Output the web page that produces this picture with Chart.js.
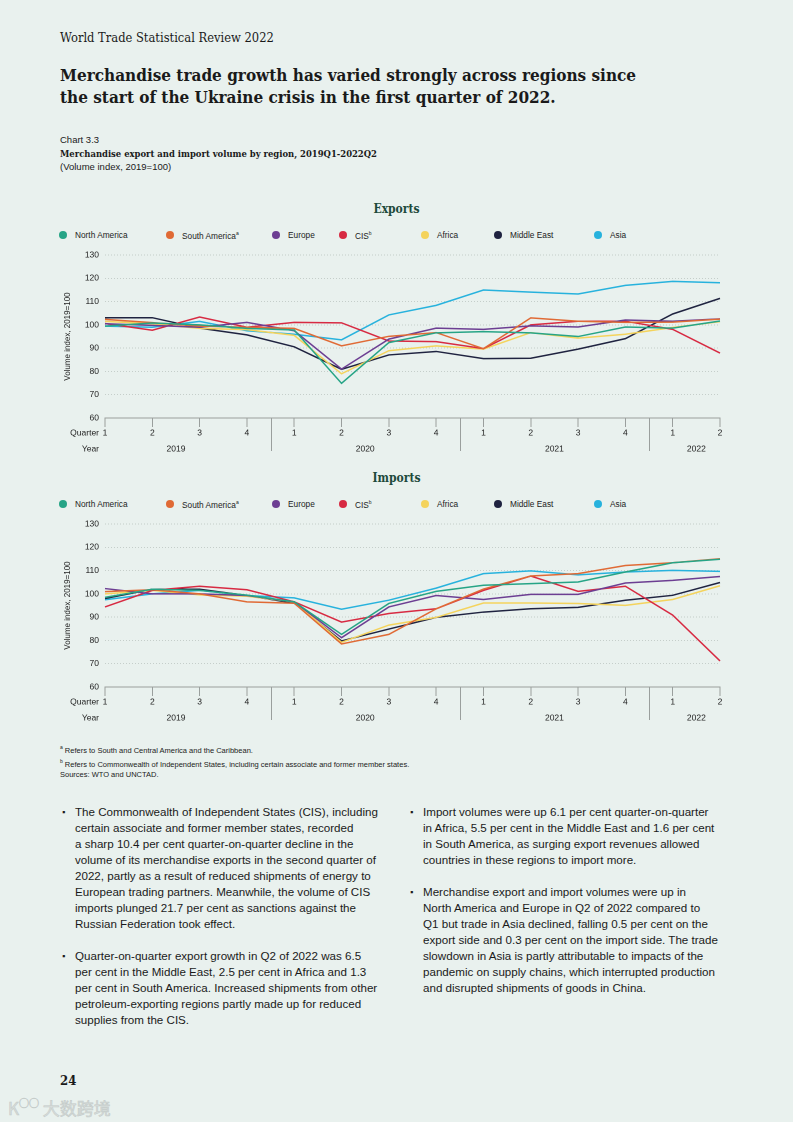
<!DOCTYPE html>
<html>
<head>
<meta charset="utf-8">
<script src="https://cdn.jsdelivr.net/npm/chart.js@4.4.1/dist/chart.umd.min.js"></script>
<style>
  body { margin: 0; background: #e9f1ee; }
  #page { position: relative; width: 793px; height: 1122px; background: #e9f1ee; overflow: hidden;
          font-family: "Liberation Sans", Arial, sans-serif; color: #1a1a1a; }
  .abs { position: absolute; }
  .slab { font-family: "DejaVu Serif Condensed", "DejaVu Serif", serif; }
  .runhead { left: 60px; top: 30px; font-size: 12.8px; }
  .headline { left: 60px; top: 64px; font-size: 17px; font-weight: bold; line-height: 22px; }
  .chartno { left: 60px; top: 134px; font-size: 9.5px; }
  .charttitle { left: 60px; top: 148px; font-size: 9.4px; font-weight: bold; }
  .chartsub { left: 60px; top: 161px; font-size: 9.5px; }
  .sectitle { left: 0; width: 793px; text-align: center; font-size: 12px; font-weight: bold; color: #1d4a3b; }
  .legend { font-size: 8.3px; color: #222; }
  .legend span.dot { position: absolute; width: 8px; height: 8px; border-radius: 50%; top: 1px; }
  .legend span.lbl { position: absolute; left: 16px; top: 0; white-space: nowrap; }
  .notes { left: 60px; top: 742px; font-size: 7.5px; line-height: 11px; color: #222; white-space: nowrap; }
  .col { font-size: 11.6px; line-height: 16px; color: #1a1a1a; white-space: nowrap; }
  .col p { margin: 0 0 16px 0; position: relative; padding-left: 13px; }
  .col p:before { content: "\25AA"; position: absolute; left: 0; top: 0; font-size: 9px; }
  .pageno { left: 60px; top: 1073px; font-size: 13px; font-weight: bold; }
  .wm { left: 8px; top: 1095px; font-size: 17px; color: #d9dfdd; font-family: "Noto Sans CJK SC", sans-serif;
        -webkit-text-stroke: 0.6px #c4cbc9; letter-spacing: 0px; }
</style>
</head>
<body>
<div id="page">
  <div class="abs slab runhead">World Trade Statistical Review 2022</div>
  <div class="abs slab headline">Merchandise trade growth has varied strongly across regions since<br>the start of the Ukraine crisis in the first quarter of 2022.</div>
  <div class="abs chartno">Chart 3.3</div>
  <div class="abs slab charttitle">Merchandise export and import volume by region, 2019Q1-2022Q2</div>
  <div class="abs chartsub">(Volume index, 2019=100)</div>

  <div class="abs slab sectitle" style="top:202px">Exports</div>
  <div class="abs legend" id="legendExp" style="top:230px;left:0;width:793px;height:12px"></div>
  <canvas id="exportsChart" class="abs" style="left:55px;top:244px"></canvas>

  <div class="abs slab sectitle" style="top:471px">Imports</div>
  <div class="abs legend" id="legendImp" style="top:499px;left:0;width:793px;height:12px"></div>
  <canvas id="importsChart" class="abs" style="left:55px;top:513px"></canvas>

  <div class="abs notes">
    <sup style="font-size:5px">a</sup> Refers to South and Central America and the Caribbean.<br>
    <sup style="font-size:5px">b</sup> Refers to Commonwealth of Independent States, including certain associate and former member states.<br>
    Sources: WTO and UNCTAD.
  </div>

  <div class="abs col" style="left:62px;top:804px">
    <p>The Commonwealth of Independent States (CIS), including<br>certain associate and former member states, recorded<br>a sharp 10.4 per cent quarter-on-quarter decline in the<br>volume of its merchandise exports in the second quarter of<br>2022, partly as a result of reduced shipments of energy to<br>European trading partners. Meanwhile, the volume of CIS<br>imports plunged 21.7 per cent as sanctions against the<br>Russian Federation took effect.</p>
    <p>Quarter-on-quarter export growth in Q2 of 2022 was 6.5<br>per cent in the Middle East, 2.5 per cent in Africa and 1.3<br>per cent in South America. Increased shipments from other<br>petroleum-exporting regions partly made up for reduced<br>supplies from the CIS.</p>
  </div>
  <div class="abs col" style="left:410px;top:804px">
    <p>Import volumes were up 6.1 per cent quarter-on-quarter<br>in Africa, 5.5 per cent in the Middle East and 1.6 per cent<br>in South America, as surging export revenues allowed<br>countries in these regions to import more.</p>
    <p>Merchandise export and import volumes were up in<br>North America and Europe in Q2 of 2022 compared to<br>Q1 but trade in Asia declined, falling 0.5 per cent on the<br>export side and 0.3 per cent on the import side. The trade<br>slowdown in Asia is partly attributable to impacts of the<br>pandemic on supply chains, which interrupted production<br>and disrupted shipments of goods in China.</p>
  </div>

  <div class="abs slab pageno">24</div>
  <div class="abs wm">K<span style="font-size:10px;vertical-align:top">○○</span> 大数跨境</div>
</div>

<script>
// categories
const quarters = ['1', '2', '3', '4', '1', '2', '3', '4', '1', '2', '3', '4', '1', '2'];
const years = ['2019', '2020', '2021', '2022'];
const quartersPerYear = [4, 4, 4, 2];
const yTicks = [60, 70, 80, 90, 100, 110, 120, 130];

const regions = ['North America', 'South America', 'Europe', 'CIS', 'Africa', 'Middle East', 'Asia'];
const regionSup = ['', 'a', '', 'b', '', '', ''];
const colors = ['#26a486', '#e06a35', '#6c3e92', '#d72a42', '#f4d35c', '#1f2340', '#27b2dd'];
const legendX = [59, 166, 272, 339, 421, 494, 594];

// exports, volume index 2019=100
const expNorthAmerica = [99.5, 100.8, 100.0, 98.5, 97.8, 74.9, 92.4, 96.6, 97.1, 96.6, 95.0, 99.1, 98.6, 101.7];
const expSouthAmerica = [102.4, 101.0, 99.5, 99.0, 98.5, 91.0, 95.1, 96.7, 89.8, 103.0, 101.6, 101.1, 101.2, 102.5];
const expEurope = [100.5, 99.8, 99.0, 101.1, 97.5, 81.0, 93.9, 98.6, 98.1, 99.6, 99.1, 102.1, 101.6, 102.6];
const expCIS = [100.6, 97.7, 103.4, 99.0, 101.1, 100.9, 93.1, 92.8, 89.8, 100.0, 101.6, 101.6, 98.1, 87.9];
const expAfrica = [101.5, 100.5, 98.5, 98.0, 95.5, 79.0, 88.9, 91.0, 89.6, 96.7, 94.3, 96.0, 98.9, 101.4];
const expMiddleEast = [103.1, 103.1, 98.6, 95.7, 90.6, 80.9, 87.1, 88.6, 85.5, 85.7, 89.6, 94.1, 104.7, 111.4];
const expAsia = [99.5, 99.0, 101.5, 97.5, 96.0, 93.6, 104.3, 108.4, 115.0, 114.1, 113.3, 117.0, 118.7, 118.1];

// imports, volume index 2019=100
const impNorthAmerica = [98.5, 102.0, 101.5, 99.5, 96.6, 82.6, 95.9, 101.1, 103.7, 104.4, 105.1, 109.4, 113.4, 114.9];
const impSouthAmerica = [101.0, 101.8, 100.0, 96.6, 96.0, 78.5, 82.6, 93.6, 102.1, 107.7, 108.7, 112.2, 113.4, 115.1];
const impEurope = [102.3, 100.0, 100.0, 99.3, 96.6, 81.2, 94.4, 99.3, 97.6, 99.8, 99.8, 104.7, 105.8, 107.5];
const impCIS = [94.4, 101.5, 103.3, 101.8, 96.6, 87.9, 91.6, 93.6, 101.5, 107.7, 101.1, 103.3, 90.9, 71.2];
const impAfrica = [100.0, 101.5, 99.6, 99.0, 96.6, 79.2, 86.6, 89.9, 96.1, 96.1, 95.9, 95.1, 97.6, 103.5];
const impMiddleEast = [98.0, 102.0, 102.0, 99.3, 96.0, 79.8, 84.9, 89.9, 92.2, 93.6, 94.2, 97.3, 99.4, 104.9];
const impAsia = [97.5, 100.0, 101.5, 99.3, 98.3, 93.4, 97.3, 102.5, 108.7, 109.9, 108.2, 109.4, 110.1, 109.7];

const exportSeries = [expNorthAmerica, expSouthAmerica, expEurope, expCIS, expAfrica, expMiddleEast, expAsia];
const importSeries = [impNorthAmerica, impSouthAmerica, impEurope, impCIS, impAfrica, impMiddleEast, impAsia];

function buildLegend(id) {
    const box = document.getElementById(id);
    regions.forEach(function(name, i) {
        const item = document.createElement('div');
        item.style.position = 'absolute';
        item.style.left = legendX[i] + 'px';
        item.style.top = '0px';
        item.innerHTML = '<span class="dot" style="background:' + colors[i] + '"></span>' +
            '<span class="lbl">' + name + (regionSup[i] ? '<sup style="font-size:5px">' + regionSup[i] + '</sup>' : '') + '</span>';
        box.appendChild(item);
    });
}

// year row, separators and the "Quarter"/"Year" captions under the axis
const yearAxisPlugin = {
    id: 'yearAxis',
    afterDraw(chart) {
        const ctx = chart.ctx;
        const x = chart.scales.x;
        const bottom = chart.chartArea.bottom;
        ctx.save();
        ctx.font = '8.5px "Liberation Sans", Arial, sans-serif';
        ctx.fillStyle = '#222';
        ctx.textBaseline = 'middle';
        ctx.textAlign = 'right';
        ctx.fillText('Quarter', chart.chartArea.left - 6, bottom + 15);
        ctx.fillText('Year', chart.chartArea.left - 6, bottom + 31);
        ctx.textAlign = 'center';
        let start = 0;
        ctx.strokeStyle = '#9a9f9d';
        ctx.lineWidth = 1;
        years.forEach(function(yr, i) {
            const end = start + quartersPerYear[i] - 1;
            const cx = (x.getPixelForValue(start) + x.getPixelForValue(end)) / 2;
            ctx.fillText(yr, cx, bottom + 31);
            if (i < years.length - 1) {
                const sx = Math.round((x.getPixelForValue(end) + x.getPixelForValue(end + 1)) / 2) + 0.5;
                ctx.beginPath();
                ctx.moveTo(sx, bottom);
                ctx.lineTo(sx, bottom + 33);
                ctx.stroke();
            }
            start = end + 1;
        });
        ctx.restore();
    }
};

function makeChart(canvasId, series) {
    const datasets = series.map(function(values, i) {
        return {
            label: regions[i],
            data: values,
            borderColor: colors[i],
            backgroundColor: colors[i],
            borderWidth: 1.5,
            pointRadius: 0,
            tension: 0,
        };
    });

    return new Chart(document.getElementById(canvasId), {
        type: 'line',
        data: { labels: quarters, datasets: datasets },
        plugins: [yearAxisPlugin],
        options: {
            responsive: false,
            animation: false,
            devicePixelRatio: 2,
            layout: { padding: { top: 10, right: 15, left: 0, bottom: 0 } },
            plugins: { legend: { display: false }, tooltip: { enabled: false } },
            scales: {
                x: {
                    offset: false,
                    afterFit(scale) { scale.height = 41; },
                    grid: { drawOnChartArea: false, drawTicks: true, tickLength: 9, color: '#9a9f9d' },
                    border: { display: true, color: '#9a9f9d', width: 1 },
                    ticks: { color: '#222', font: { size: 8.5, family: '"Liberation Sans", Arial, sans-serif' },
                             padding: 1, maxRotation: 0, autoSkip: false },
                },
                y: {
                    min: 60,
                    max: 130,
                    afterFit(scale) { scale.width = 50; },
                    afterBuildTicks(scale) { scale.ticks = yTicks.map(function(v) { return { value: v }; }); },
                    grid: { drawTicks: false, color: '#b9c2bf', lineWidth: 0.8 },
                    border: { display: false, dash: [1, 2] },
                    ticks: { color: '#222', padding: 6, font: { size: 8.5, family: '"Liberation Sans", Arial, sans-serif' } },
                    title: { display: true, text: 'Volume index, 2019=100', color: '#222', padding: { top: 8, bottom: 0 },
                             font: { size: 8, family: '"Liberation Sans", Arial, sans-serif' } },
                },
            },
        },
    });
}

document.addEventListener('DOMContentLoaded', function() {
    ['exportsChart', 'importsChart'].forEach(function(id) {
        const c = document.getElementById(id);
        c.width = 680; c.height = 215;
        c.style.width = '680px'; c.style.height = '215px';
    });
    buildLegend('legendExp');
    buildLegend('legendImp');
    makeChart('exportsChart', exportSeries);
    makeChart('importsChart', importSeries);
});
</script>
</body>
</html>
